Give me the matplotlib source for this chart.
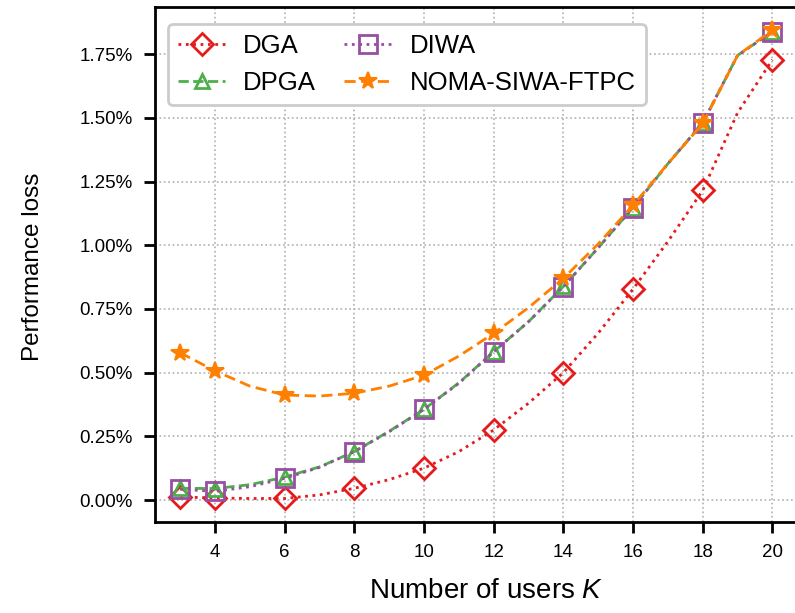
import matplotlib.pyplot as plt
from matplotlib.ticker import PercentFormatter

plt.rcParams['font.family'] = ['Liberation Sans', 'DejaVu Sans']
plt.rcParams['mathtext.fontset'] = 'custom'
plt.rcParams['mathtext.it'] = 'Liberation Sans:italic'

# number of users, every integer K; markers only on the labelled K values
K = list(range(3, 21))
mark_idx = [0, 1, 3, 5, 7, 9, 11, 13, 15, 17]

# performance loss in percent
dga = [0.012, 0.008, 0.006, 0.006, 0.02, 0.046, 0.08, 0.125, 0.19, 0.275,
       0.38, 0.50, 0.655, 0.828, 1.015, 1.215, 1.52, 1.728]
dpga = [0.046, 0.045, 0.06, 0.09, 0.13, 0.19, 0.27, 0.356, 0.46, 0.582,
        0.70, 0.838, 0.99, 1.148, 1.32, 1.48, 1.745, 1.838]
diwa = [0.042, 0.034, 0.052, 0.085, 0.128, 0.19, 0.268, 0.356, 0.458, 0.582,
        0.70, 0.837, 0.99, 1.148, 1.32, 1.48, 1.745, 1.838]
noma = [0.578, 0.507, 0.447, 0.412, 0.408, 0.419, 0.447, 0.49, 0.565, 0.654,
        0.755, 0.87, 1.005, 1.157, 1.32, 1.478, 1.745, 1.844]

red, green, purple, orange = '#e41a1c', '#4daf4a', '#984ea3', '#ff7f00'

fig = plt.figure(figsize=(7.95, 6.13), dpi=100)
ax = fig.add_axes([0.1946, 0.149, 0.809, 0.840])

ax.plot(K, dga, ':', color=red, lw=2, marker='D', ms=11, mfc='none',
        mew=2, markevery=mark_idx, label='DGA')
ax.plot(K, dpga, '--', color=green, lw=2, marker='^', ms=10, mfc='none',
        mew=2, markevery=mark_idx, label='DPGA')
ax.plot(K, diwa, ':', color=purple, lw=2, marker='s', ms=12.5, mfc='none',
        mew=2, markevery=mark_idx, label='DIWA')
ax.plot(K, noma, '--', color=orange, lw=2, dashes=(4, 2), marker='*', ms=13,
        mew=1.5, markevery=mark_idx, label='NOMA-SIWA-FTPC')

ax.set_xlim(2.27, 20.73)
ax.set_ylim(-0.085, 1.936)
ax.set_xticks(range(4, 21, 2))
ax.set_yticks([0, 0.25, 0.5, 0.75, 1.0, 1.25, 1.5, 1.75])
ax.yaxis.set_major_formatter(PercentFormatter(decimals=2))
ax.tick_params(direction='out', length=8, width=2, labelsize=13.5)
ax.tick_params(axis='x', pad=8)
ax.tick_params(axis='y', pad=8)
for s in ax.spines.values():
    s.set_linewidth(2)
ax.grid(True, ls=':', color='#b0b0b0', lw=1.2)

ax.set_xlabel('Number of users $K$', fontsize=20)
ax.set_ylabel('Performance loss', fontsize=17.5)
ax.xaxis.set_label_coords(0.515, -0.11)
ax.yaxis.set_label_coords(-0.172, 0.495)

leg = ax.legend(ncol=2, loc='upper left', bbox_to_anchor=(0, 0.992),
                fontsize=18.5, handlelength=1.85, columnspacing=1.1,
                handletextpad=0.7, borderpad=0.4, labelspacing=0.5,
                framealpha=1, edgecolor='#cccccc')
leg.get_frame().set_linewidth(2)

fig.savefig('out.png', dpi=100)
